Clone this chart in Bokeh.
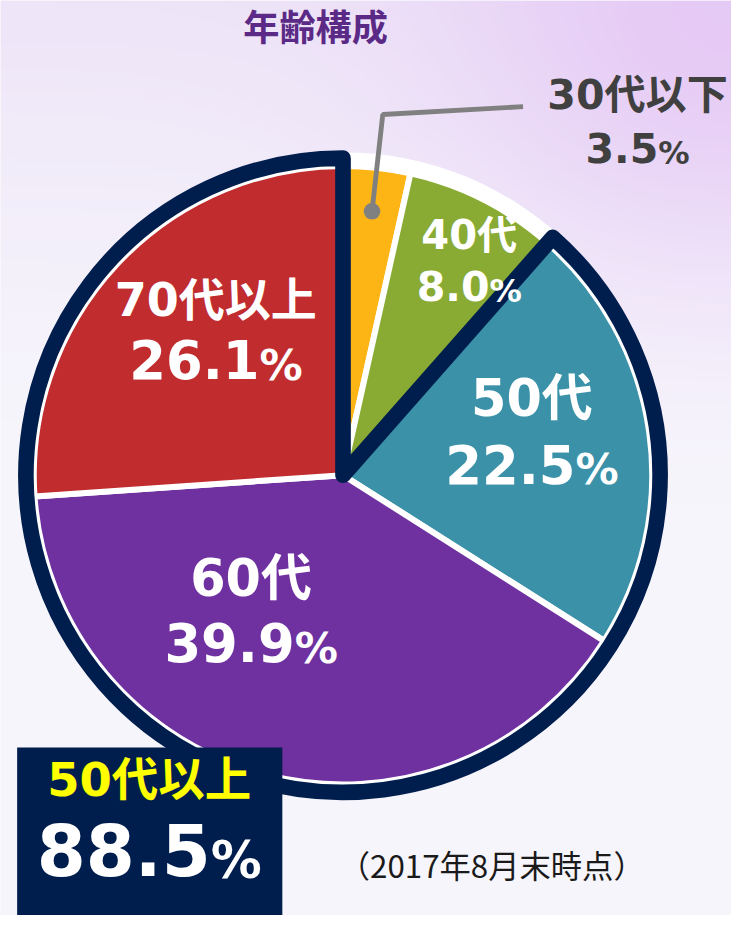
import numpy as np
from bokeh.plotting import figure
from bokeh.models import Range1d, ColumnDataSource
from bokeh.core.properties import value
from bokeh.embed import file_html
from bokeh.resources import INLINE

# ---------------- data ----------------
categories = ["30代以下", "40代", "50代", "60代", "70代以上"]
shares = [3.5, 8.0, 22.5, 39.9, 26.1]
slice_colors = ["#FDB515", "#89AB34", "#3A91A8", "#6F30A0", "#C12C2F"]
highlight_groups = ["50代", "60代", "70代以上"]
highlight_label = "50代以上"
highlight_share = 88.5
title_text = "年齢構成"
note_text = "（2017年8月末時点）"

# ---------------- layout ----------------
PW, PH = 747, 931          # reference frame units
W, H = 731, 915
K = W / PW                 # px per frame unit


def Y(py):
    return PH - py


NAVY = "#001E4D"
CJK = "DejaVu Sans, Noto Sans CJK JP"
NUMF = "DejaVu Sans"

p = figure(width=W, height=H, x_range=Range1d(0, PW), y_range=Range1d(0, PH),
           output_backend="svg", toolbar_location=None, min_border=0,
           x_axis_location=None, y_axis_location=None)
p.grid.visible = False
p.outline_line_color = None
p.background_fill_color = "#F7F6FC"
p.border_fill_color = "#F7F6FC"

# background gradient
hs, ws = 233, 187
ys = (np.arange(hs) + 0.5) * (PH / hs)
xs = (np.arange(ws) + 0.5) * (PW / ws)
XX, YY = np.meshgrid(xs, ys)
PYY = PH - YY
base = np.array([247, 246, 252], float)
topc = np.array([238, 229, 248], float)
blobc = np.array([229, 199, 245], float)
t = np.clip(1 - PYY / 480, 0, 1) ** 1.3
col = base * (1 - t)[..., None] + topc * t[..., None]
d = np.sqrt(((XX - 740) / 1.1) ** 2 + (PYY - 10) ** 2)
b = 0.9 * np.exp(-(d / 260) ** 2)
col = col * (1 - b)[..., None] + blobc * b[..., None]
img = np.empty((hs, ws), dtype=np.uint32)
view = img.view(dtype=np.uint8).reshape((hs, ws, 4))
view[..., 0] = col[..., 0].astype(np.uint8)
view[..., 1] = col[..., 1].astype(np.uint8)
view[..., 2] = col[..., 2].astype(np.uint8)
view[..., 3] = 255
p.image_rgba(image=[img], x=0, y=0, dw=PW, dh=PH)

# ---------------- pie ----------------
cx, cy = 350, Y(483)
R = 316
cum = np.cumsum([0] + shares)
starts = np.pi / 2 - 2 * np.pi * cum[:-1] / 100
ends = np.pi / 2 - 2 * np.pi * cum[1:] / 100
src = ColumnDataSource(dict(cat=categories, share=shares, start=starts, end=ends, color=slice_colors))

p.circle(x=cx, y=cy, radius=330, fill_color="white", line_color=None)
p.wedge(x=cx, y=cy, radius=R, start_angle="start", end_angle="end", direction="clock",
        fill_color="color", line_color="white", line_width=6, source=src)

hi = [categories.index(c) for c in highlight_groups]
p.wedge(x=cx, y=cy, radius=324, start_angle=starts[min(hi)], end_angle=ends[max(hi)],
        direction="clock", fill_color=None, line_color=NAVY, line_width=16 * K, line_join="round")

# leader line for the smallest slice
mid0 = (starts[0] + ends[0]) / 2
dx_, dy_ = cx + 0.855 * R * np.cos(mid0), cy + 0.855 * R * np.sin(mid0)
p.line(x=[dx_, dx_ + 11, 534], y=[dy_, Y(116), Y(108)], line_color="#808080", line_width=5 * K)
p.scatter(x=[dx_], y=[dy_], size=17 * K, fill_color="#808080", line_color=None)


# ---------------- texts ----------------
def txt(x, py, s, size, color, font=CJK, bold=True, align="center"):
    py = py - 0.08 * size
    p.text(x=[x], y=[Y(py)], text=[s], text_font=value(font), text_font_size=f"{size * K:.1f}px",
           text_font_style="bold" if bold else "normal", text_color=color,
           text_align=align, text_baseline="middle")


def pct(xc, py, num, size, pct_size, color):
    wnum = sum(0.38 if ch == "." else 0.696 for ch in num) * size
    wp = 1.002 * pct_size
    left = xc - (wnum + wp) / 2
    a = left + wnum
    txt(a, py, num, size, color, font=NUMF, align="right")
    txt(a, py + 0.444 * (size - pct_size), "%", pct_size, color, font=NUMF, align="left")


def fmt(v):
    return f"{v:.1f}"


txt(322, 31, title_text, 37, "#5B2A86")

label_pos = {
    "30代以下": (651, 100, 42, 153, 42, 32, "#404040"),
    "40代": (479, 242, 41, 294, 42, 33, "white"),
    "50代": (543, 409, 52, 476, 54, 44, "white"),
    "60代": (256, 592, 52, 658, 54, 44, "white"),
    "70代以上": (220, 309, 47, 370, 54, 44, "white"),
}
for c, s in zip(categories, shares):
    x, b1, f1, b2, f2, f3, colr = label_pos[c]
    txt(x, b1, c, f1, colr)
    pct(x, b2, fmt(s), f2, f3, colr)

# highlight box
p.quad(left=17, right=288, bottom=0, top=Y(760), fill_color=NAVY, line_color=None)
txt(152, 797, highlight_label, 47.5, "#FFFF00")
pct(152, 870, fmt(highlight_share), 72, 52, "white")

txt(502, 882, note_text, 32, "#1A1A1A", font="Noto Sans CJK JP", bold=False)

open("out.html", "w").write(file_html(p, INLINE))
